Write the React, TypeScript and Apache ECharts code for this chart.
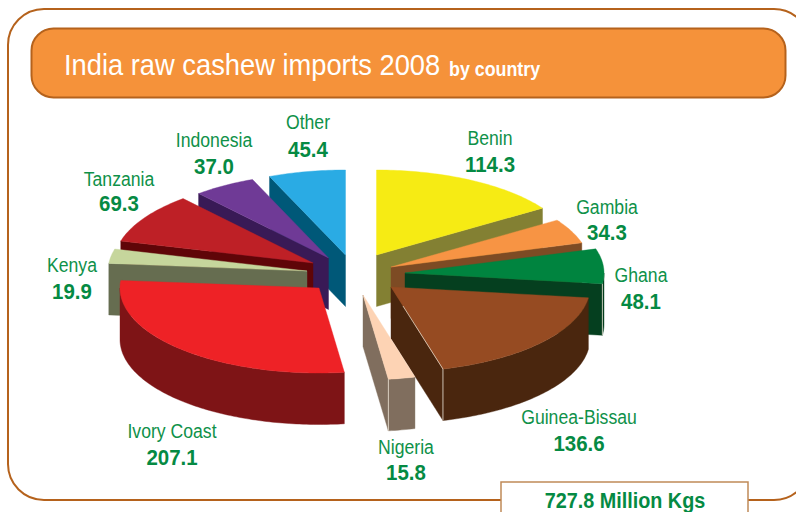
import React, { useEffect, useRef } from "react";
import * as echarts from "echarts";

// Raw cashew imports, million kg
const countries = ["Benin", "Gambia", "Ghana", "Guinea-Bissau", "Nigeria", "Ivory Coast", "Kenya", "Tanzania", "Indonesia", "Other"];
const imports = [114.3, 34.3, 48.1, 136.6, 15.8, 207.1, 19.9, 69.3, 37.0, 45.4];
const totalLabel = "727.8 Million Kgs";

// Slice colours
const topColors = ["#F6EB14", "#F79444", "#00843F", "#964B22", "#FDD3B4", "#EE2226", "#C6D69C", "#BE2026", "#6F3A96", "#2AABE4"];
const sideColors = ["#838033", "#7D4B24", "#053F1F", "#4A260E", "#806E5E", "#7E1416", "#666D50", "#5F0508", "#391A56", "#005878"];

// Pie geometry and where each slice has been pulled out to
const RX = 199;
const RY = 85;
const DEPTH = 51.5;
const apexes = [[376.5, 255], [391, 267], [405, 273], [391, 287], [363, 295], [319, 288], [307, 271], [313, 263], [328.5, 258], [345.5, 255]];
const paintOrder = [9, 8, 7, 6, 5, 0, 1, 2, 3, 4];
const litEdges = [2, 3, 4];

// Label centres: x, name y, value y
const labelSpots = [[490, 137, 165], [607, 206, 233], [641, 274, 302], [579, 416, 444], [406, 446, 473], [172, 430, 458], [72, 264, 292], [119, 178, 204], [214, 139, 167], [308, 121, 150]];

const FACE = '"Liberation Sans", Arial, sans-serif';
const NAME_GREEN = "#0F9149";
const VALUE_GREEN = "#058A43";
const FRAME = "#B5621C";

const total = imports.reduce((a, b) => a + b, 0);
const startAngles = imports.map((_, i) => (imports.slice(0, i).reduce((a, b) => a + b, 0) / total) * 360);
const endAngles = imports.map((v, i) => startAngles[i] + (v / total) * 360);

function rimPoint(apex: number[], deg: number, drop = 0): number[] {
  const r = (deg * Math.PI) / 180;
  return [apex[0] + RX * Math.sin(r), apex[1] - RY * Math.cos(r) + drop];
}

function arcPoints(apex: number[], from: number, to: number, drop = 0): number[][] {
  const pts: number[][] = [];
  const steps = Math.max(2, Math.ceil(to - from));
  for (let s = 0; s <= steps; s++) pts.push(rimPoint(apex, from + ((to - from) * s) / steps, drop));
  return pts;
}

function cutFace(apex: number[], deg: number, color: string) {
  const rim = rimPoint(apex, deg);
  const points = [apex, rim, [rim[0], rim[1] + DEPTH], [apex[0], apex[1] + DEPTH]];
  return { type: "polygon", shape: { points }, style: { fill: color, stroke: color, lineWidth: 0.4 } };
}

function renderSlice(_: unknown, api: any) {
  const i = api.value(0) as number;
  const apex = apexes[i];
  const from = startAngles[i];
  const to = endAngles[i];
  const children: any[] = [];

  if (from > 180) children.push(cutFace(apex, from, sideColors[i]));
  if (to < 180) children.push(cutFace(apex, to, sideColors[i]));

  // Outer wall is only seen on the front half of the rim
  const wallFrom = Math.max(from, 90);
  const wallTo = Math.min(to, 270);
  if (wallTo > wallFrom) {
    const points = [...arcPoints(apex, wallFrom, wallTo), ...arcPoints(apex, wallFrom, wallTo, DEPTH).reverse()];
    children.push({ type: "polygon", shape: { points }, style: { fill: sideColors[i], stroke: sideColors[i], lineWidth: 0.4 } });
  }

  children.push({
    type: "polygon",
    shape: { points: [apex, ...arcPoints(apex, from, to)] },
    style: { fill: topColors[i], stroke: topColors[i], lineWidth: 0.4 },
  });

  if (litEdges.includes(i)) {
    const rim = rimPoint(apex, to);
    const stroke = "#EFE6D8";
    children.push({ type: "polyline", shape: { points: [rim, [rim[0], rim[1] + DEPTH]] }, style: { stroke, fill: "none", lineWidth: 0.8 } });
    if (i === 3) {
      children.push({ type: "polyline", shape: { points: [[apex[0] + 12, apex[1] + 19], rim] }, style: { stroke, fill: "none", lineWidth: 0.7 } });
    }
  }

  return { type: "group", children };
}

function sliceLabels() {
  const out: any[] = [];
  countries.forEach((name, i) => {
    const [x, nameY, valueY] = labelSpots[i];
    out.push({
      type: "text", x, y: nameY, scaleX: 0.84,
      style: { text: name, fill: NAME_GREEN, font: `21px ${FACE}`, align: "center", verticalAlign: "middle" },
    });
    out.push({
      type: "text", x, y: valueY, scaleX: 0.93,
      style: { text: imports[i].toFixed(1), fill: VALUE_GREEN, font: `bold 22px ${FACE}`, align: "center", verticalAlign: "middle" },
    });
  });
  return out;
}

export default function App() {
  const ref = useRef<HTMLDivElement>(null);

  useEffect(() => {
    const chart = echarts.init(ref.current!, undefined, { renderer: "svg" });
    chart.setOption({
      animation: false,
      backgroundColor: "#FFFFFF",
      graphic: [
        {
          type: "rect", z: 0,
          shape: { x: 8, y: 9, width: 802, height: 491, r: 36 },
          style: { fill: "#FFFFFF", stroke: FRAME, lineWidth: 2 },
        },
        {
          type: "rect", z: 1,
          shape: { x: 31.5, y: 28.5, width: 754, height: 69, r: 22 },
          style: { fill: "#F5923A", stroke: FRAME, lineWidth: 2 },
        },
        {
          type: "text", z: 2, x: 64, y: 65, scaleX: 0.91,
          style: { text: "India raw cashew imports 2008", fill: "#FFFFFF", font: `30px ${FACE}`, verticalAlign: "middle" },
        },
        {
          type: "text", z: 2, x: 449, y: 68, scaleX: 0.85,
          style: { text: "by country", fill: "#FFFFFF", font: `bold 21px ${FACE}`, verticalAlign: "middle" },
        },
        {
          type: "rect", z: 2,
          shape: { x: 501, y: 482, width: 247, height: 40 },
          style: { fill: "#FFFFFF", stroke: "#C08A58", lineWidth: 1.5 },
        },
        {
          type: "text", z: 3, x: 625, y: 500, scaleX: 0.9,
          style: { text: totalLabel, fill: VALUE_GREEN, font: `bold 22px ${FACE}`, align: "center", verticalAlign: "middle" },
        },
        ...sliceLabels().map((t) => ({ ...t, z: 5 })),
      ],
      series: [
        {
          type: "custom",
          coordinateSystem: "none",
          z: 3,
          silent: true,
          data: paintOrder.map((i) => [i, imports[i]]),
          renderItem: renderSlice,
        },
      ],
    });
    return () => chart.dispose();
  }, []);

  return <div ref={ref} style={{ position: "fixed", left: 0, top: 0, width: 796, height: 512 }} />;
}
